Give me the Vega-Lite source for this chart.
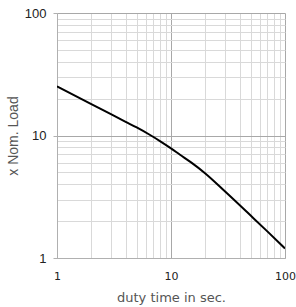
{
  "$schema": "https://vega.github.io/schema/vega-lite/v6.json",
  "autosize": "none",
  "width": 228,
  "height": 245,
  "padding": {"left": 57, "top": 13, "right": 11, "bottom": 49},
  "background": "white",
  "config": {"view": {"stroke": null}, "font": "DejaVu Sans"},
  "data": {"values": [
    {"t": 1, "load": 25.18},
    {"t": 2, "load": 18.05},
    {"t": 3, "load": 14.86},
    {"t": 4, "load": 12.94},
    {"t": 5, "load": 11.63},
    {"t": 6.5, "load": 10.14},
    {"t": 8, "load": 9.01},
    {"t": 10, "load": 7.85},
    {"t": 12, "load": 6.96},
    {"t": 15, "load": 6.03},
    {"t": 20, "load": 4.9},
    {"t": 30, "load": 3.47},
    {"t": 50, "load": 2.22},
    {"t": 70, "load": 1.65},
    {"t": 100, "load": 1.196}
  ]},
  "mark": {"type": "line", "color": "black", "strokeWidth": 2, "interpolate": "monotone", "clip": true},
  "encoding": {
    "x": {
      "field": "t", "type": "quantitative",
      "scale": {"type": "log", "domain": [1, 100], "nice": false},
      "axis": {
        "title": "duty time in sec.",
        "titleFont": "DejaVu Sans", "titleFontSize": 13, "titleFontWeight": "normal", "titleColor": "#555",
        "titlePadding": 10,
        "values": [1,2,3,4,5,6,7,8,9,10,20,30,40,50,60,70,80,90,100],
        "labelExpr": "datum.value==1||datum.value==10||datum.value==100 ? format(datum.value,'d') : ''",
        "labelFont": "DejaVu Sans", "labelFontSize": 11, "labelColor": "#222", "labelPadding": 12,
        "labelOverlap": false, "labelFlush": false,
        "ticks": false,
        "domainColor": "#b0b0b0",
        "gridColor": {"condition": {"test": "datum.value==1||datum.value==10||datum.value==100", "value": "#a8a8a8"}, "value": "#d9d9d9"}
      }
    },
    "y": {
      "field": "load", "type": "quantitative",
      "scale": {"type": "log", "domain": [1, 100], "nice": false},
      "axis": {
        "title": "x Nom. Load",
        "titleFont": "Liberation Sans", "titleFontSize": 14, "titleFontWeight": "normal", "titleColor": "#555",
        "titlePadding": 4,
        "values": [1,2,3,4,5,6,7,8,9,10,20,30,40,50,60,70,80,90,100],
        "labelExpr": "datum.value==1||datum.value==10||datum.value==100 ? format(datum.value,'d') : ''",
        "labelFont": "Liberation Sans", "labelFontSize": 13, "labelColor": "#222", "labelPadding": 7,
        "labelOverlap": false, "labelFlush": false,
        "tickSize": 4,
        "tickColor": {"condition": {"test": "datum.value==1||datum.value==10||datum.value==100", "value": "#b0b0b0"}, "value": "transparent"},
        "domainColor": "#b0b0b0",
        "gridColor": {"condition": {"test": "datum.value==1||datum.value==10||datum.value==100", "value": "#a8a8a8"}, "value": "#d9d9d9"}
      }
    }
  }
}
